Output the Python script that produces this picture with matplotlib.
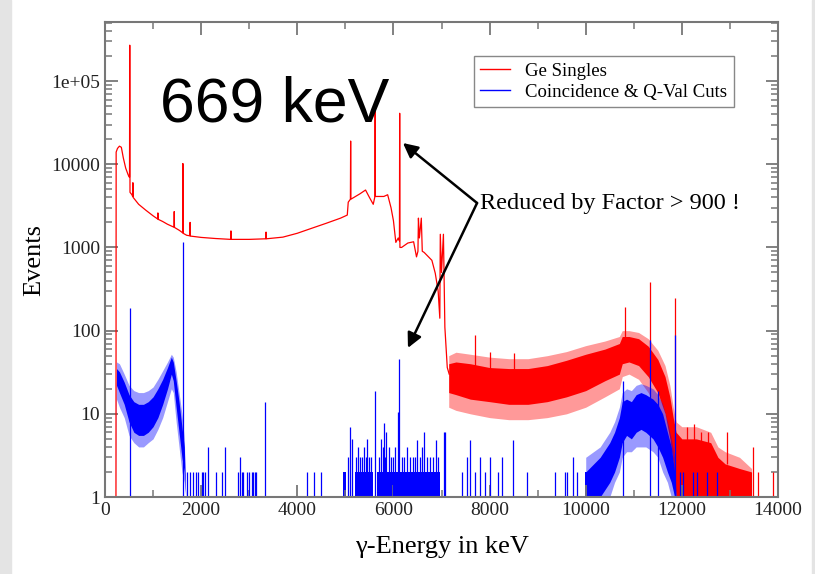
import numpy as np
import matplotlib.pyplot as plt
from matplotlib.ticker import LogLocator, MultipleLocator, FixedLocator, NullFormatter
from matplotlib.patches import Rectangle
from matplotlib.lines import Line2D

plt.rcParams['font.family'] = ['Liberation Serif', 'DejaVu Serif']

# ---- Ge singles (red), smooth part, peaks as up/down triplets ----
red_E = [200, 228, 232, 260, 300, 340, 380, 430, 480, 505, 510, 515, 520, 560, 575, 580, 585,
         700, 850, 1000, 1095, 1100, 1105, 1200, 1300, 1435, 1440, 1445, 1550, 1615, 1620, 1625,
         1700, 1765, 1770, 1775, 2000, 2300, 2615, 2620, 2625, 3000, 3345, 3350, 3355, 3700,
         4000, 4300, 4600, 4900, 5040, 5060, 5105, 5110, 5115, 5300, 5420, 5500, 5580, 5615,
         5620, 5625, 5800, 5880, 5950, 6000, 6050, 6100, 6125, 6130, 6135, 6170, 6300, 6420,
         6480, 6510, 6520, 6540, 6580, 6600, 6640, 6800, 6870, 6930, 6965, 6975, 7000, 7040,
         7070, 7120, 7160]
red_N = [1, 1, 14000, 15500, 16500, 16000, 12000, 9000, 7500, 7000, 7000, 270000, 4600, 4300,
         4100, 6000, 4000, 3300, 2800, 2400, 2200, 2600, 2180, 2050, 1900, 1750, 2700, 1740,
         1600, 1500, 10200, 1480, 1400, 1380, 2000, 1370, 1320, 1280, 1250, 1580, 1250, 1250,
         1270, 1530, 1270, 1330, 1480, 1700, 1950, 2250, 2450, 3500, 3800, 19000, 3800, 4400,
         4900, 4000, 3300, 4100, 50000, 4100, 4100, 4300, 3000, 2100, 1150, 1300, 1200, 41000,
         1000, 1000, 1130, 1170, 770, 900, 2250, 1300, 2250, 900, 870, 700, 490, 300, 141, 1440,
         500, 1440, 110, 36, 30]

# noisy high-energy part of the singles: core envelope and outer (noise) envelope
red_band_E = [7150, 7300, 7600, 8000, 8400, 8800, 9200, 9600, 10000, 10400, 10700, 10760,
              10900, 11100, 11300, 11500, 11650, 11750, 11820, 11880, 12000, 12300, 12600,
              12750, 12900, 13200, 13450]
red_band_lo = [18, 17, 15, 14, 13, 13, 14, 16, 19, 25, 30, 40, 42, 38, 28, 18, 10, 5, 2.5, 1,
               1, 1, 1, 1, 1, 1, 1]
red_band_hi = [40, 42, 40, 36, 35, 35, 38, 44, 52, 60, 70, 85, 85, 80, 65, 45, 28, 16, 9, 6,
               5, 5, 4.5, 3, 2.5, 2.2, 2]
red_out_lo = [12, 11, 10, 9, 8.5, 8.5, 9, 10, 12, 16, 20, 28, 30, 26, 18, 11, 6, 3, 1.5, 1,
              1, 1, 1, 1, 1, 1, 1]
red_out_hi = [50, 55, 52, 48, 46, 46, 50, 56, 66, 75, 85, 100, 100, 95, 80, 58, 38, 22, 12,
              8, 7, 7, 6, 4, 3.5, 3, 2.2]

red_spk_E = [7700, 8000, 8500, 10820, 11340, 11860, 12100, 12250, 12400, 12550, 12940, 13480,
             13580, 13900]
red_spk_lo = [35, 35, 33, 80, 60, 8, 4, 4, 4, 4, 2.5, 1, 1, 1]
red_spk_hi = [88, 55, 54, 190, 385, 245, 7, 7.5, 6, 6, 6, 4, 2, 2]

# ---- coincidence & Q-value cuts (blue) ----
blue1_E = [220, 240, 300, 400, 500, 600, 700, 800, 900, 1000, 1100, 1200, 1300, 1380, 1420,
           1480, 1540, 1600, 1650, 1680]
blue1_lo = [1, 22, 18, 13, 8, 6, 5.5, 5.5, 6, 7, 9, 13, 20, 30, 25, 12, 6, 3, 2, 1]
blue1_hi = [1, 35, 32, 24, 17, 14, 13, 13, 14, 16, 20, 26, 36, 48, 42, 25, 14, 7, 4, 1]
blue1_out_lo = [1, 15, 12, 9, 5.5, 4.5, 4, 4, 4.5, 5, 6.5, 9, 14, 20, 18, 8, 4, 2, 1.5, 1]
blue1_out_hi = [1, 42, 40, 30, 22, 19, 18, 18, 19, 21, 26, 33, 42, 52, 48, 32, 18, 10, 5, 1]

blue2_E = [10000, 10300, 10500, 10600, 10700, 10760, 10850, 10950, 11050, 11150, 11250, 11400,
           11500, 11600, 11700, 11780, 11850, 11880]
blue2_lo = [1, 1, 1.5, 2, 3, 4.5, 5.5, 5, 6, 6.5, 6, 5, 4, 3, 2, 1.5, 1, 1]
blue2_hi = [2, 3, 4.5, 6, 9, 14, 15, 14, 17, 18, 17, 15, 13, 10, 6, 4, 2, 1]
blue2_out_lo = [1, 1, 1, 1.5, 2, 3, 3.5, 3.5, 4, 4, 4, 3.5, 3, 2, 1.5, 1, 1, 1]
blue2_out_hi = [3, 4, 6, 8, 12, 18, 20, 19, 22, 23, 22, 20, 17, 13, 8, 5, 3, 1]

# dense block of count-2 channels around 5-7 MeV and 10 MeV
blue_blk_E0 = [4950, 5200, 5650, 9990]
blue_blk_E1 = [5020, 5570, 6970, 10300]

blue_spk_E = [520, 1620, 1700, 1760, 1830, 1900, 1940, 2010, 2040, 2080, 2140, 2310, 2430,
              2500, 2770, 2810, 2840, 2870, 2950, 3000, 3050, 3080, 3120, 3150, 3330, 4200,
              4350, 4490, 5050, 5090, 5130, 5220, 5260, 5300, 5340, 5380, 5420, 5450, 5500,
              5540, 5620, 5700, 5740, 5780, 5800, 5830, 5850, 5900, 5950, 6000, 6040, 6090,
              6115, 6170, 6220, 6280, 6340, 6400, 6450, 6490, 6560, 6600, 6640, 6700, 6760,
              6820, 6880, 6920, 7050, 7070, 7430, 7530, 7590, 7700, 7800, 7900, 8010, 8170,
              8260, 8490, 8780, 9360, 9570, 9610, 9730, 9820, 10780, 11340, 11500, 11860,
              11960, 12020, 12230, 12310, 12520, 12730]
blue_spk_N = [187, 1150, 2, 2, 2, 2, 2, 2, 2, 2, 4, 2, 2, 4, 2, 3, 2, 2, 2, 2, 2, 2, 2, 2, 14,
              2, 2, 2, 3, 7, 5, 3, 4, 3, 3, 4, 3, 5, 3, 3, 19, 3, 5, 4, 7.8, 3, 6, 4, 3, 3, 4,
              10.5, 45, 3, 3, 4, 3, 3, 3, 4.8, 3, 4, 6, 3, 3, 3, 4.8, 3, 6, 6, 2, 3, 4.8, 2,
              3, 2, 3, 2, 3, 4.8, 2, 2, 2, 2, 3, 2, 25, 77, 19, 88, 2, 2, 2, 2, 2, 2]

fig = plt.figure(figsize=(8.15, 5.74), dpi=100)
fig.patches.append(Rectangle((0, 0), 11 / 815, 1, transform=fig.transFigure,
                             color='#e4e4e4', zorder=-10))
fig.patches.append(Rectangle((812 / 815, 0), 3 / 815, 1, transform=fig.transFigure,
                             color='#e4e4e4', zorder=-10))
ax = fig.add_axes([105 / 815, 1 - 497 / 574, 673 / 815, 475 / 574])

red = '#ff0000'
blue = '#0000ff'

ax.plot(red_E, red_N, color=red, lw=0.9)
ax.fill_between(red_band_E, red_out_lo, red_out_hi, color=red, lw=0, alpha=0.4)
ax.fill_between(red_band_E, red_band_lo, red_band_hi, color=red, lw=0)
ax.vlines(red_spk_E, red_spk_lo, red_spk_hi, color=red, lw=0.9)

ax.fill_between(blue1_E, blue1_out_lo, blue1_out_hi, color=blue, lw=0, alpha=0.4)
ax.fill_between(blue1_E, blue1_lo, blue1_hi, color=blue, lw=0)
ax.fill_between(blue2_E, blue2_out_lo, blue2_out_hi, color=blue, lw=0, alpha=0.4)
ax.fill_between(blue2_E, blue2_lo, blue2_hi, color=blue, lw=0)
for e0, e1 in zip(blue_blk_E0, blue_blk_E1):
    ax.fill_between([e0, e1], [1, 1], [2, 2], color=blue, lw=0)
ax.vlines(blue_spk_E, 1, blue_spk_N, color=blue, lw=0.9)

ax.set_yscale('log')
ax.set_xlim(0, 14000)
ax.set_ylim(1, 10 ** 5.71)

ax.xaxis.set_major_locator(MultipleLocator(2000))
ax.xaxis.set_minor_locator(MultipleLocator(1000))
ax.yaxis.set_major_locator(FixedLocator([1, 10, 100, 1000, 10000, 100000]))
ax.set_yticklabels(['1', '10', '100', '1000', '10000', '1e+05'])
ax.yaxis.set_minor_locator(LogLocator(base=10, subs=np.arange(2, 10)))
ax.yaxis.set_minor_formatter(NullFormatter())

ax.tick_params(which='both', direction='in', top=True, right=True, color='#777777',
               labelsize=14, labelcolor='#222222')
ax.tick_params(which='major', length=9, width=1.3)
ax.tick_params(which='minor', length=5, width=1.1)
for s in ax.spines.values():
    s.set_color('#777777')
    s.set_linewidth(1.5)

ax.set_xlabel('γ-Energy in keV', fontsize=19)
ax.xaxis.set_label_coords(0.5, -(536 - 497) / 475)
ax.set_ylabel('Events', fontsize=19, labelpad=4)

ax.text(0.081, (497 - 122) / 475, '669 keV', transform=ax.transAxes, fontsize=45,
        family=['Liberation Sans', 'DejaVu Sans'], va='baseline', ha='left', color='black')

handles = [Line2D([], [], color=red, lw=1), Line2D([], [], color=blue, lw=1)]
leg = ax.legend(handles, ['Ge Singles', 'Coincidence & Q-Val Cuts'], loc='upper left',
                bbox_to_anchor=(0.548, 0.928), borderaxespad=0, fontsize=13.5,
                fancybox=False, framealpha=1, edgecolor='#888888', handlelength=1.6,
                handletextpad=0.8, labelspacing=0.2, borderpad=0.35)
leg.get_frame().set_linewidth(1.0)

arrow = dict(arrowstyle='-|>', color='black', lw=1.8, mutation_scale=22, shrinkA=0, shrinkB=0)
ax.annotate('', xy=(6198, 18000), xytext=(7740, 3420), arrowprops=arrow)
ax.annotate('', xy=(6302, 62), xytext=(7740, 3420), arrowprops=arrow)
ax.text(7810, 3420, 'Reduced by Factor > 900 !', fontsize=17.5, va='center', ha='left')

fig.savefig('out.png', dpi=100)
